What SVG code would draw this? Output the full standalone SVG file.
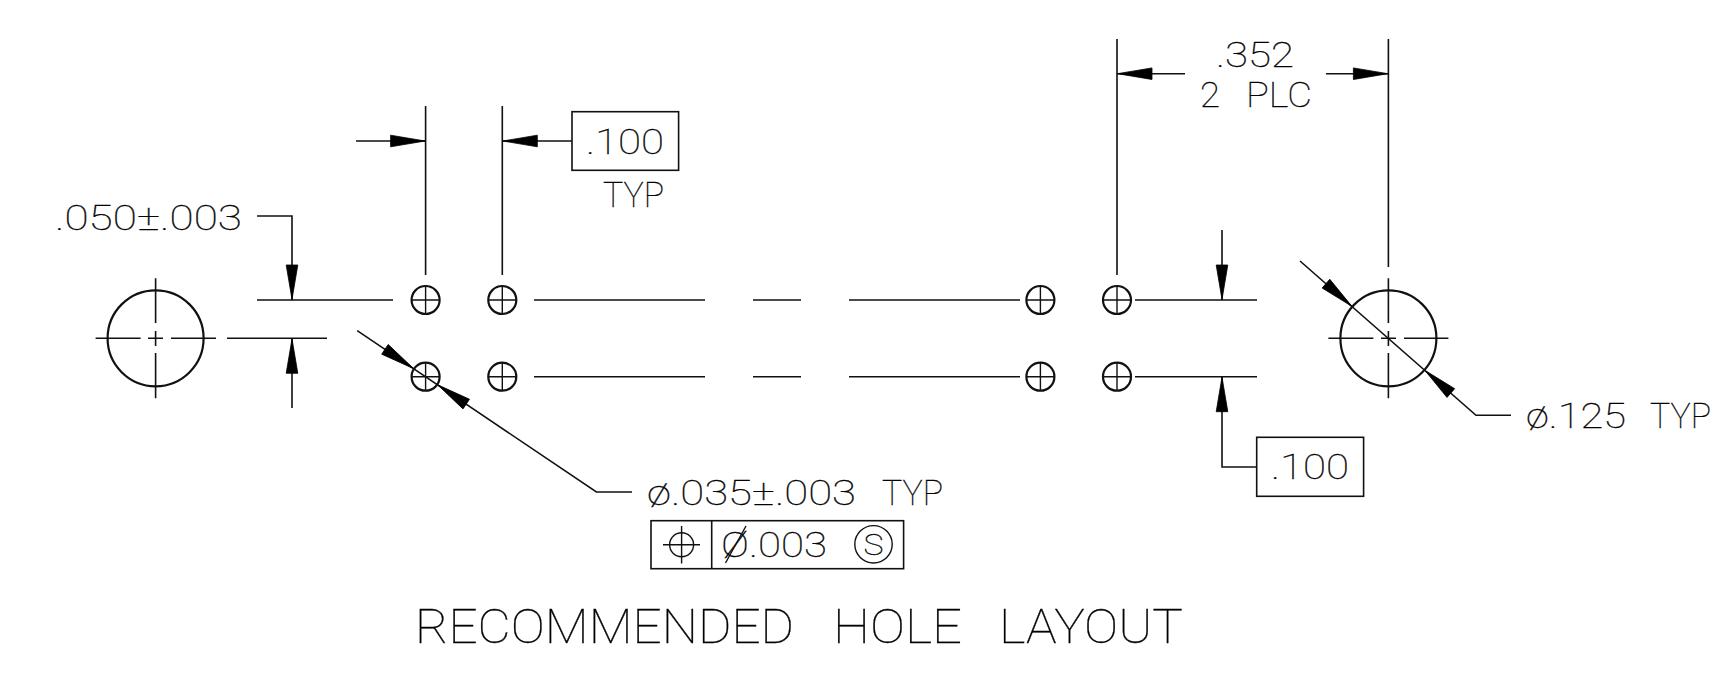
<svg xmlns="http://www.w3.org/2000/svg" width="1719" height="675" viewBox="0 0 1719 675">
<style>
.l{stroke:#111;stroke-width:1.6;fill:none}
.c{stroke:#111;stroke-width:2.2;fill:none}
.h{stroke:#111;stroke-width:1.4;fill:none}
.a{fill:#000;stroke:#000;stroke-width:.8}
text{font-family:Roboto,"Liberation Sans",sans-serif;font-weight:100;fill:#000;stroke:#000;stroke-width:.3;opacity:.99}
.t{font-size:35px}
.b{font-size:49px}
.s{font-size:29px}
</style>
<defs>
<g id="hole"><circle class="c" r="14"/><path class="h" d="M-14 0H14M0-14V14"/></g>
<path id="ar" class="a" d="M-.5 0L-35-5.8V5.8Z"/>
</defs>
<rect width="1719" height="675" fill="#fff"/>
<g id="connectors">
<path class="l" d="M257 300H393M534 300H705M753 300H801M849 300H1020M1135 300H1257M534 376.7H705M753 376.7H801M849 376.7H1020M1135 376.7H1257M227 338.3H327"/>
<path class="l" d="M425.6 106V275M502.3 106V275M1117 39V275M1388.4 39V267"/>
<path class="l" d="M356 141H425.6M502.3 141H572M1117 73.7H1185M1326 73.7H1388.4"/>
<path class="l" d="M257 216H292V300M292 338.3V408M1222 230V300M1222 376.7V467H1257"/>
<path class="l" d="M357.2 330.7L596.4 492H632M1300 261L1476 415.3H1511"/>
<use href="#ar" transform="translate(425.6 141)"/>
<use href="#ar" transform="translate(502.3 141) rotate(180)"/>
<use href="#ar" transform="translate(1117 73.7) rotate(180)"/>
<use href="#ar" transform="translate(1388.4 73.7)"/>
<use href="#ar" transform="translate(292 300) rotate(90)"/>
<use href="#ar" transform="translate(292 338.3) rotate(-90)"/>
<use href="#ar" transform="translate(1222 300) rotate(90)"/>
<use href="#ar" transform="translate(1222 376.7) rotate(-90)"/>
<use href="#ar" transform="translate(414 368.9) rotate(34)"/>
<use href="#ar" transform="translate(437.2 384.5) rotate(214)"/>
<use href="#ar" transform="translate(1352.3 306.7) rotate(41.2)"/>
<use href="#ar" transform="translate(1424.5 370) rotate(221.2)"/>
</g>
<g id="hole-left"><circle class="c" cx="155.6" cy="338.3" r="48"/><path class="l" d="M95.6 338.3H140.6M148 338.3H163M171 338.3H216M155.6 278.3V323M155.6 331V346M155.6 353V398.3"/></g>
<g id="hole-right"><circle class="c" cx="1388.4" cy="338.3" r="48"/><path class="l" d="M1328.4 338.3H1373.4M1381 338.3H1396M1404 338.3H1448.4M1388.4 278.3V323M1388.4 331V346M1388.4 353V398.3"/></g>
<g id="holes">
<use href="#hole" x="425.6" y="300"/><use href="#hole" x="502.3" y="300"/><use href="#hole" x="1040.4" y="300"/><use href="#hole" x="1117" y="300"/>
<use href="#hole" x="425.6" y="376.7"/><use href="#hole" x="502.3" y="376.7"/><use href="#hole" x="1040.4" y="376.7"/><use href="#hole" x="1117" y="376.7"/>
</g>
<g id="box-100-top"><rect class="l" x="572" y="111.7" width="106.6" height="58.6"/><text class="t" x="586" y="154" textLength="78" lengthAdjust="spacingAndGlyphs">.100</text></g>
<g id="box-100-right"><rect class="l" x="1256.7" y="437.3" width="106.9" height="59"/><text class="t" x="1271" y="479.3" textLength="78" lengthAdjust="spacingAndGlyphs">.100</text></g>
<g id="labels">
<text class="t" x="603" y="206.7" textLength="61" lengthAdjust="spacingAndGlyphs">TYP</text>
<text class="t" x="55" y="229.5" textLength="187" lengthAdjust="spacingAndGlyphs">.050±.003</text>
<text class="t" x="1216" y="67" textLength="78" lengthAdjust="spacingAndGlyphs">.352</text>
<text class="t" y="107"><tspan x="1200" textLength="20" lengthAdjust="spacingAndGlyphs">2</tspan> <tspan x="1246" textLength="66" lengthAdjust="spacingAndGlyphs">PLC</tspan></text>
<text class="t" y="428"><tspan x="1526" textLength="100" lengthAdjust="spacingAndGlyphs">ø.125</tspan> <tspan x="1650" textLength="61" lengthAdjust="spacingAndGlyphs">TYP</tspan></text>
<text class="t" y="505"><tspan x="647" textLength="209" lengthAdjust="spacingAndGlyphs">ø.035±.003</tspan> <tspan x="882" textLength="61" lengthAdjust="spacingAndGlyphs">TYP</tspan></text>
<text class="b" y="643"><tspan x="415" textLength="379" lengthAdjust="spacingAndGlyphs">RECOMMENDED</tspan> <tspan x="833" textLength="129" lengthAdjust="spacingAndGlyphs">HOLE</tspan> <tspan x="999" textLength="184" lengthAdjust="spacingAndGlyphs">LAYOUT</tspan></text>
</g>
<g id="feature-control-frame">
<rect class="l" x="651" y="520.7" width="252.6" height="48"/>
<path class="l" d="M711.7 520.7V568.7"/>
<circle class="h" cx="681.6" cy="544.7" r="12"/>
<path class="h" d="M663 544.7H700M681.6 526V563.4"/>
<text class="t" x="721" y="556.7" textLength="106" lengthAdjust="spacingAndGlyphs">Ø.003</text>
<path class="h" d="M725.5 563L746 526"/>
<circle class="h" cx="873.5" cy="544.3" r="18.7"/>
<text class="s" x="863.5" y="555" textLength="20" lengthAdjust="spacingAndGlyphs">S</text>
</g>
</svg>
